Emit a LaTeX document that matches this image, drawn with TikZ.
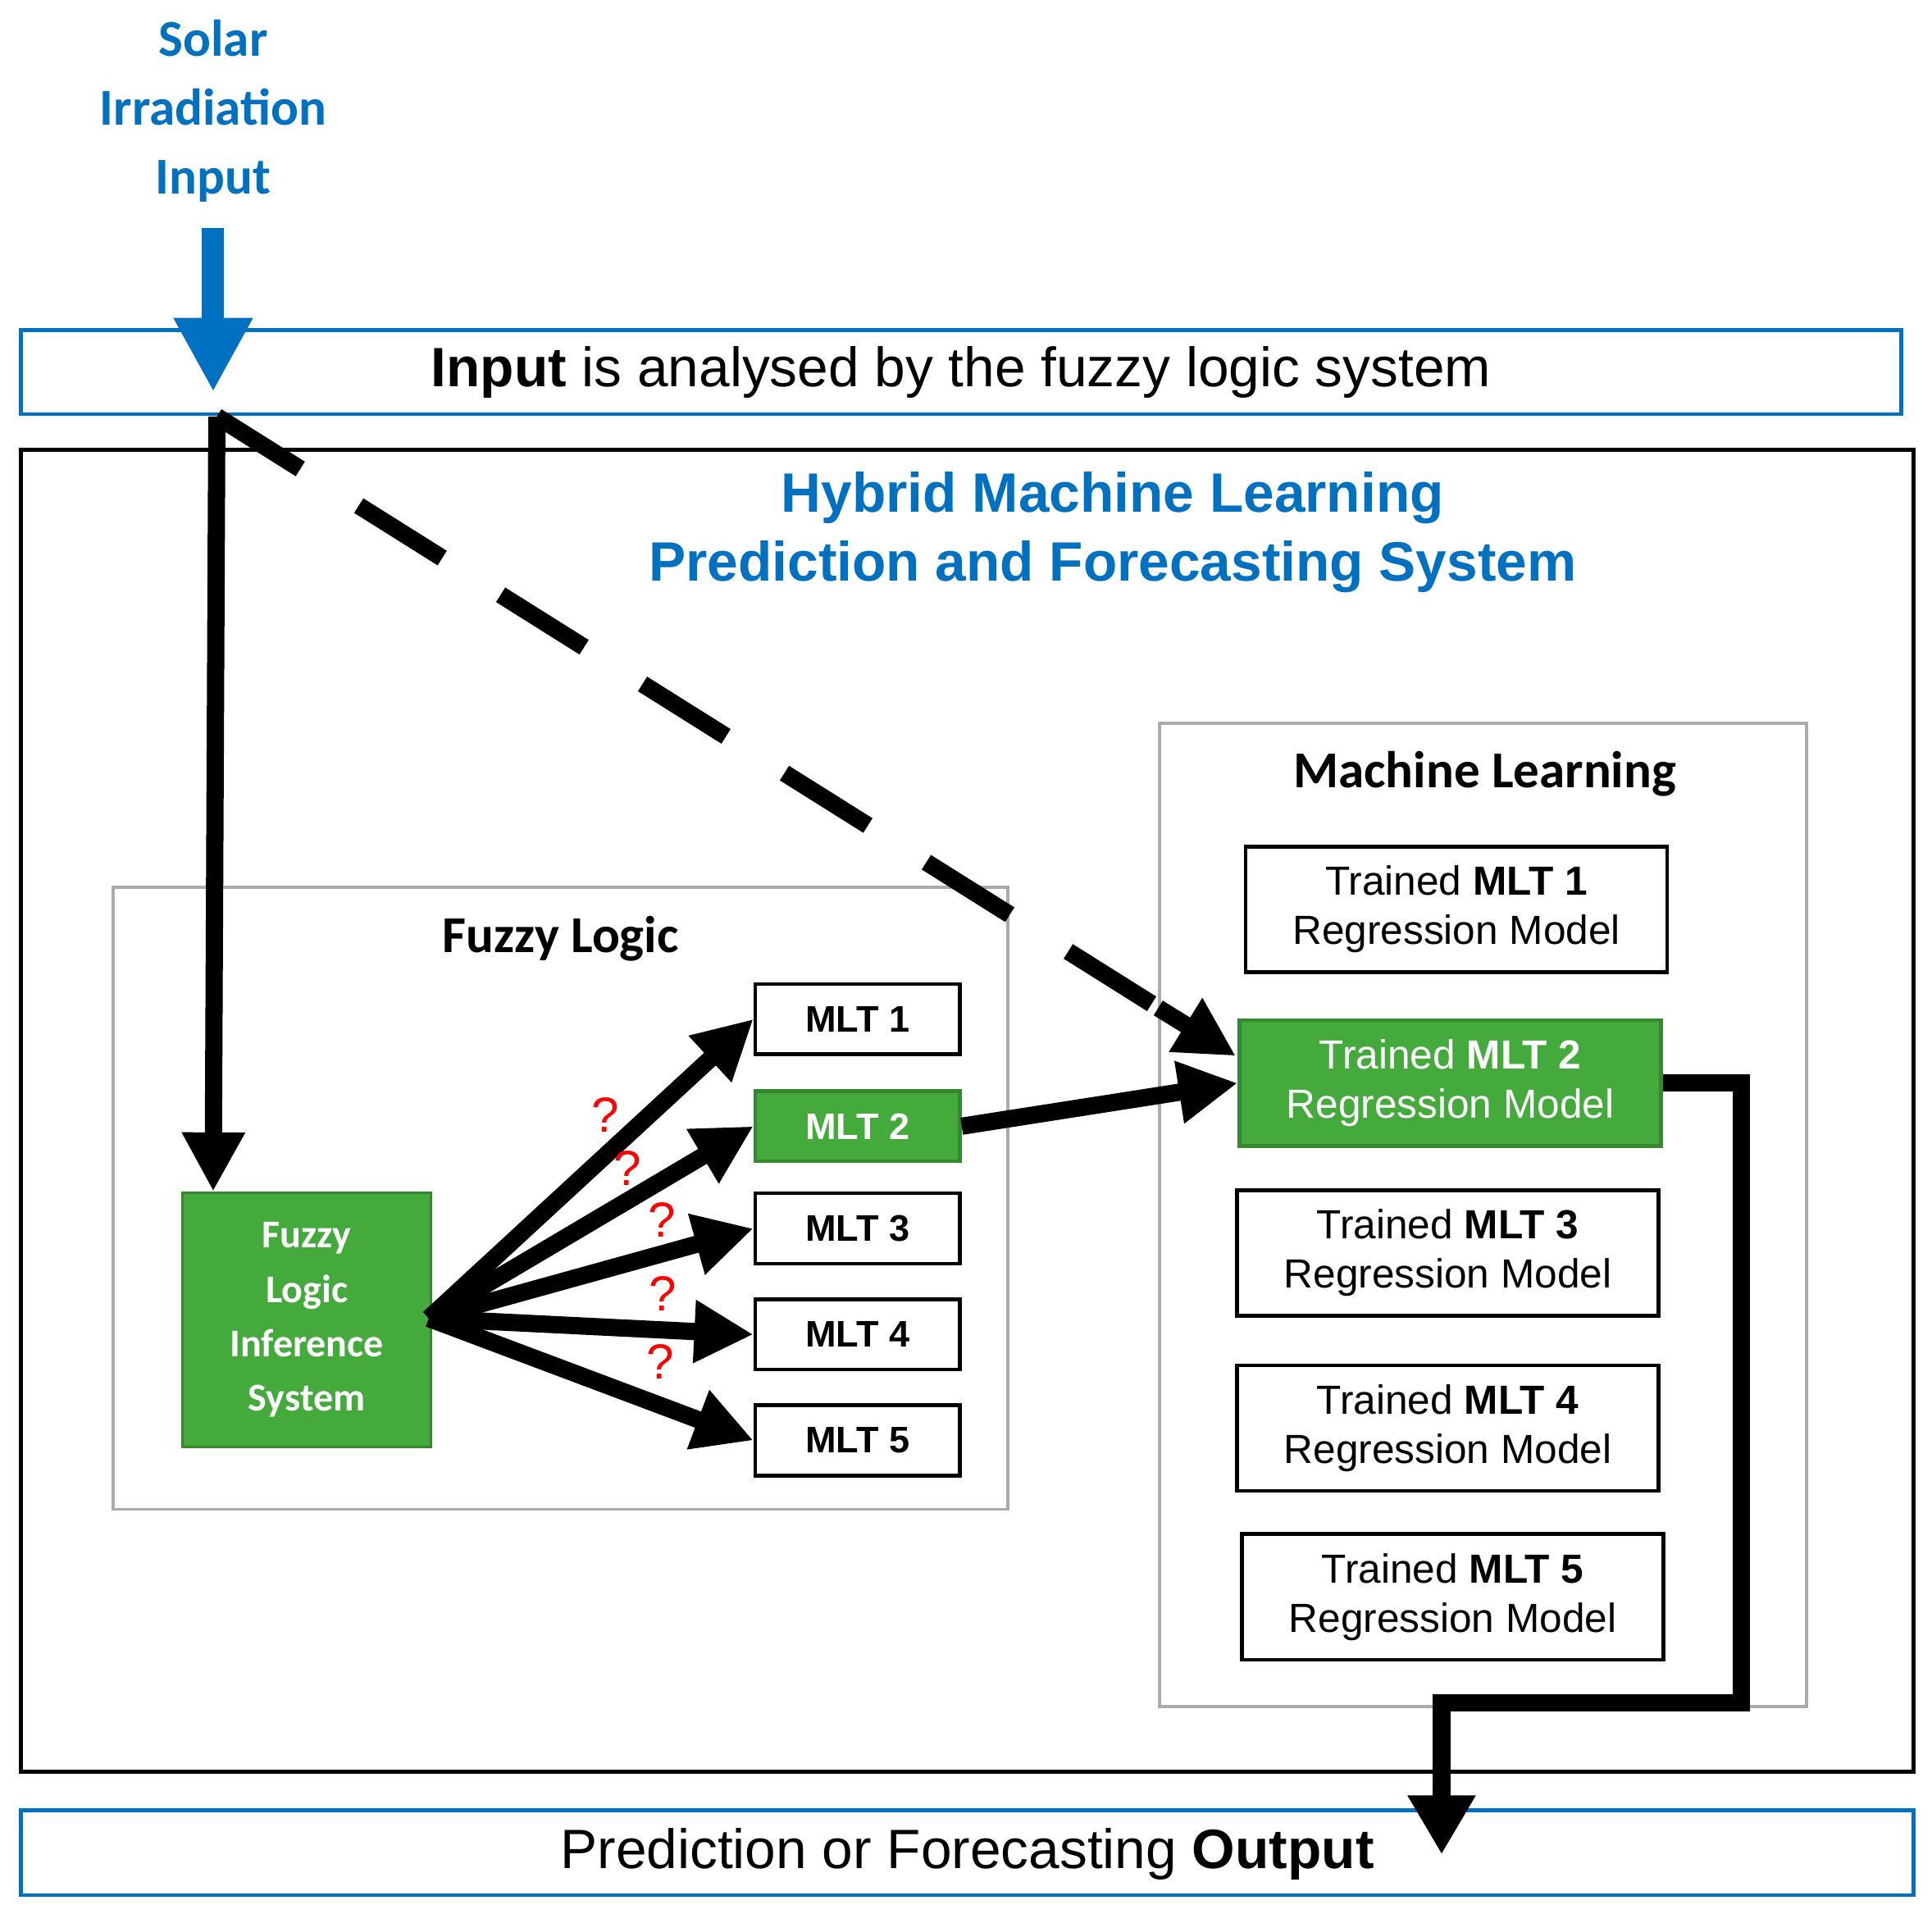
\documentclass[tikz,border=0pt]{standalone}
\usepackage{fontspec}
\setmainfont{Liberation Sans}
\newfontfamily\carl{Carlito}
\usetikzlibrary{arrows.meta}
\definecolor{bl}{RGB}{0,112,192}
\definecolor{gr}{RGB}{68,170,60}
\definecolor{gy}{RGB}{170,170,170}
\begin{document}
\begin{tikzpicture}[x=0.5pt,y=-0.5pt,
 blbox/.style={draw=bl,line width=1.5pt},
 gybox/.style={draw=gy,line width=1.2pt},
 mlt/.style={draw=black,line width=1.5pt,minimum width=83pt,minimum height=28.5pt,font=\fontsize{15}{17}\selectfont\bfseries,inner sep=0pt},
 tr/.style={draw=black,line width=1.5pt,minimum width=171pt,minimum height=51pt,font=\fontsize{16.5}{20}\selectfont,align=center,inner sep=0pt},
 grn/.style={fill=gr,draw=gr!80!black,text=white},
 ar/.style={line width=7pt,-{Triangle[length=24pt,width=24pt]}},
 q/.style={text=red,font=\fontsize{20}{20}\selectfont}]
\useasboundingbox (0,0) rectangle (1568,1553);
% top texts
\node[text=bl,font=\carl\fontsize{21}{28}\selectfont\bfseries,align=center] (solar) at (173,90) {Solar\\Irradiation\\Input};
\node[blbox,minimum width=763pt,minimum height=34pt] (inbox) at (780,302) {};
\node[font=\fontsize{22.5}{26}\selectfont] (intext) at (780,302) {\textbf{Input} is analysed by the fuzzy logic system};
\coordinate (bt) at (173,185);
\coordinate (bh) at (173,318);
\draw[bl,line width=9pt,-{Triangle[length=30pt,width=30pt]}] (bt) -- (bh);
% hybrid box
\node[draw=black,line width=1.5pt,minimum width=768pt,minimum height=536.5pt,inner sep=0pt] (hyb) at (785,901.5) {};
\node[text=bl,font=\fontsize{22.5}{28}\selectfont\bfseries,align=center] (htitle) at (903,432) {Hybrid Machine Learning\\Prediction and Forecasting System};
% fuzzy box
\node[gybox,minimum width=363pt,minimum height=252.5pt,inner sep=0pt] (fz) at (455,972.5) {};
\node[font=\carl\fontsize{21}{24}\selectfont\bfseries] (fzt) at (455,762) {Fuzzy Logic};
\node[grn,minimum width=101pt,minimum height=103pt,font=\carl\fontsize{16}{22}\selectfont\bfseries,align=center,inner sep=0pt,line width=1pt] (flis) at (249,1071) {Fuzzy\\Logic\\Inference\\System};
\node[mlt] (m1) at (696,827) {MLT 1};
\node[mlt,grn] (m2) at (696,914) {MLT 2};
\node[mlt] (m3) at (696,997) {MLT 3};
\node[mlt] (m4) at (696,1083) {MLT 4};
\node[mlt] (m5) at (696,1169) {MLT 5};
\coordinate (fo) at (348,1070);
\foreach \m in {m1,m2,m3,m4,m5} \draw[ar] (fo) -- (\m.west);
\node[q] (q1) at (491,905) {?};
\node[q] (q2) at (509,948) {?};
\node[q] (q3) at (537,990) {?};
\node[q] (q4) at (538,1050) {?};
\node[q] (q5) at (536,1105) {?};
% ML box
\node[gybox,minimum width=262.5pt,minimum height=399pt,inner sep=0pt] (ml) at (1203.5,986) {};
\node[font=\carl\fontsize{21}{24}\selectfont\bfseries] (mlt) at (1205,628) {Machine Learning};
\node[tr] (t1) at (1182,738) {Trained \textbf{MLT 1}\\Regression Model};
\node[tr,grn] (t2) at (1177,879) {Trained \textbf{MLT 2}\\Regression Model};
\node[tr] (t3) at (1175,1017) {Trained \textbf{MLT 3}\\Regression Model};
\node[tr] (t4) at (1175,1159) {Trained \textbf{MLT 4}\\Regression Model};
\node[tr] (t5) at (1179,1296) {Trained \textbf{MLT 5}\\Regression Model};
\draw[ar] (m2.east) -- (t2.west);
% input arrows
\coordinate (src) at (176,338);
\coordinate (dend) at (1003,857);
\coordinate (dmid) at (940,818);
\draw[ar] (src) -- (flis.north -| 173,0);
\draw[line width=7pt,dash pattern=on 40pt off 28pt] (src) -- (dmid);
\draw[line width=7pt,-{Triangle[length=24pt,width=24pt]}] (dmid) -- (dend);
% output
\node[blbox,minimum width=768pt,minimum height=34.5pt] (out) at (785,1503.5) {};
\node[font=\fontsize{22.5}{26}\selectfont] (outt) at (785,1505) {Prediction or Forecasting \textbf{Output}};
\draw[line width=7pt,-{Triangle[length=24pt,width=26pt]}] (t2.east) -- (1413,879) -- (1413,1382) -- (1170,1382) -- (1170,1505);
\end{tikzpicture}
\end{document}
